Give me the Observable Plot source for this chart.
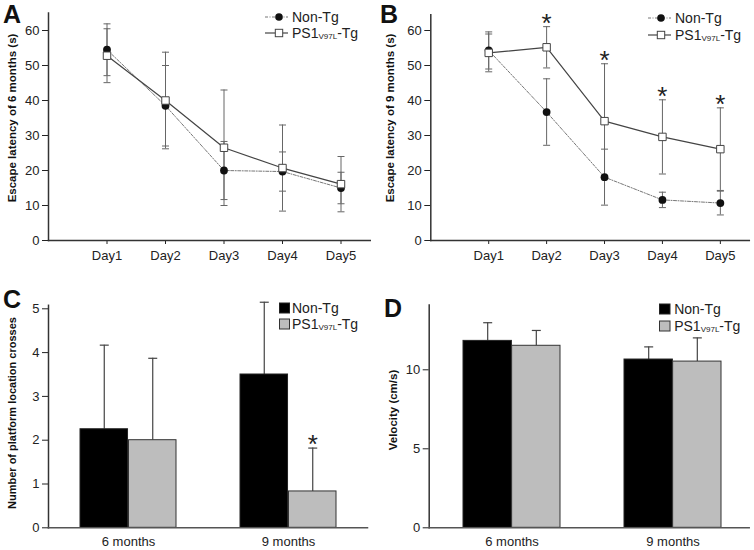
<!DOCTYPE html>
<html>
<head>
<meta charset="utf-8">
<script src="https://cdn.jsdelivr.net/npm/d3@7"></script>
<script src="https://cdn.jsdelivr.net/npm/@observablehq/plot@0.6"></script>
<style>
  body { margin: 0; background: #fff; font-family: "Liberation Sans", Arial, sans-serif; }
  #root { position: relative; width: 754px; height: 550px; overflow: hidden; background: #fff; }
  .panel { position: absolute; width: 377px; height: 275px; }
  .letter { position: absolute; font-weight: bold; font-size: 25px; line-height: 25px; color: #111; }
  .ytitle { position: absolute; font-weight: bold; font-size: 11.5px; white-space: nowrap; color: #111;
            transform: translate(-50%, -50%) rotate(-90deg); }
  .leg { position: absolute; font-size: 14px; color: #222; }
  .leg .row { display: flex; align-items: center; height: 16.3px; line-height: 16px; }
  .leg svg { display: block; flex: none; }
  .leg span { margin-left: 1px; white-space: nowrap; }
  .leg sub { font-size: 8px; vertical-align: -1px; line-height: 0; }
</style>
</head>
<body>
<div id="root">
  <div class="panel" id="pA" style="left:0px;top:0px"></div>
  <div class="panel" id="pB" style="left:377px;top:0px"></div>
  <div class="panel" id="pC" style="left:0px;top:275px"></div>
  <div class="panel" id="pD" style="left:377px;top:275px"></div>

  <div class="letter" style="left:3px;top:1.7px">A</div>
  <div class="letter" style="left:380px;top:1.7px">B</div>
  <div class="letter" style="left:3px;top:286.7px">C</div>
  <div class="letter" style="left:384px;top:296px">D</div>

  <div class="ytitle" style="left:11.7px;top:118px">Escape latency of 6 months (s)</div>
  <div class="ytitle" style="left:389.8px;top:117.5px">Escape latency of 9 months (s)</div>
  <div class="ytitle" style="left:11.7px;top:413px;font-size:11px">Number of platform location crosses</div>
  <div class="ytitle" style="left:392.5px;top:410px">Velocity (cm/s)</div>

  <!-- Legend A -->
  <div class="leg" style="left:263px;top:8.8px">
    <div class="row"><svg width="28" height="16"><line x1="2" y1="8" x2="25" y2="8" stroke="#777" stroke-width="1" stroke-dasharray="3,1.5,1,1.5"/><circle cx="16" cy="8" r="3.8" fill="#111"/></svg><span>Non-Tg</span></div>
    <div class="row"><svg width="28" height="16"><line x1="2" y1="8" x2="25" y2="8" stroke="#444" stroke-width="1.2"/><rect x="12.3" y="4.3" width="7.4" height="7.4" fill="#fff" stroke="#444" stroke-width="1"/></svg><span>PS1<sub>V97L</sub>-Tg</span></div>
  </div>
  <!-- Legend B -->
  <div class="leg" style="left:646px;top:10.2px">
    <div class="row"><svg width="28" height="16"><line x1="2" y1="8" x2="25" y2="8" stroke="#777" stroke-width="1" stroke-dasharray="3,1.5,1,1.5"/><circle cx="15" cy="8" r="3.8" fill="#111"/></svg><span>Non-Tg</span></div>
    <div class="row"><svg width="28" height="16"><line x1="2" y1="8" x2="25" y2="8" stroke="#444" stroke-width="1.2"/><rect x="11.3" y="4.3" width="7.4" height="7.4" fill="#fff" stroke="#444" stroke-width="1"/></svg><span>PS1<sub>V97L</sub>-Tg</span></div>
  </div>
  <!-- Legend C -->
  <div class="leg" style="left:278.5px;top:300px">
    <div class="row"><svg width="12" height="16"><rect x="0.5" y="3" width="10" height="10" fill="#000" stroke="#222"/></svg><span style="margin-left:1.5px">Non-Tg</span></div>
    <div class="row"><svg width="12" height="16"><rect x="0.5" y="3" width="10" height="10" fill="#bdbdbd" stroke="#333"/></svg><span style="margin-left:1.5px">PS1<sub>V97L</sub>-Tg</span></div>
  </div>
  <!-- Legend D -->
  <div class="leg" style="left:659.2px;top:301.2px">
    <div class="row"><svg width="12" height="16"><rect x="0.5" y="3" width="10.5" height="10" fill="#000" stroke="#222"/></svg><span style="margin-left:3px">Non-Tg</span></div>
    <div class="row"><svg width="12" height="16"><rect x="0.5" y="3" width="10.5" height="10" fill="#bdbdbd" stroke="#333"/></svg><span style="margin-left:3px">PS1<sub>V97L</sub>-Tg</span></div>
  </div>
</div>

<script>
// ---------------- DATA ----------------
const days = ["Day1", "Day2", "Day3", "Day4", "Day5"];
const groupNames = ["Non-Tg", "PS1V97L-Tg"];

// Panel A: escape latency, 6 months (s)
const aNonTgMean = [54.5, 38.5, 20.0, 19.7, 15.0];
const aNonTgSD   = [7.4, 11.5, 8.3, 5.6, 4.5];
const aTgMean    = [52.8, 40.0, 26.5, 20.7, 16.1];
const aTgSD      = [7.7, 13.8, 16.5, 12.3, 7.9];

// Panel B: escape latency, 9 months (s)
const bNonTgMean = [54.3, 36.7, 18.1, 11.6, 10.7];
const bNonTgSD   = [5.3, 9.5, 8.0, 2.2, 3.4];
const bTgMean    = [53.6, 55.2, 34.1, 29.6, 26.1];
const bTgSD      = [5.4, 5.9, 16.4, 10.6, 11.8];
const bSignificant = [false, true, true, true, true];

// Panels C & D
const ages = ["6 months", "9 months"];
const cNonTgMean = [2.25, 3.5];
const cNonTgSD   = [1.92, 1.65];
const cTgMean    = [2.0, 0.83];
const cTgSD      = [1.87, 0.99];
const cSignificant = [false, true];

const dNonTgMean = [11.83, 10.65];
const dNonTgSD   = [1.15, 0.80];
const dTgMean    = [11.52, 10.52];
const dTgSD      = [0.97, 1.50];

// --------------- HELPERS ---------------
const FONT = "'Liberation Sans', Arial, sans-serif";
const capSymbol = (half) => ({
  draw(ctx) { ctx.moveTo(-half, 0); ctx.lineTo(half, 0); }
});

function lineRows(mean, sd, group, sig) {
  return mean.map((m, i) => ({
    day: i + 1, group, mean: m, lo: m - sd[i], hi: m + sd[i], sig: sig ? sig[i] : false
  }));
}

function linePanel({nonMean, nonSD, tgMean, tgSD, sig, yMax, marginLeft, marginRight}) {
  const non = lineRows(nonMean, nonSD, groupNames[0], null);
  const tg = lineRows(tgMean, tgSD, groupNames[1], sig);
  const all = non.concat(tg);
  return Plot.plot({
    width: 377, height: 275,
    marginLeft, marginRight, marginTop: 240 - yMax * 3.5, marginBottom: 35,
    style: {fontFamily: FONT, fontSize: "13px", color: "#222", background: "#fff", overflow: "visible"},
    x: {domain: [0, 5.5], ticks: [1, 2, 3, 4, 5], tickFormat: (d) => days[d - 1], tickSize: 4, tickPadding: 6, label: null},
    y: {domain: [0, yMax], ticks: [0, 10, 20, 30, 40, 50, 60], tickFormat: "d", tickSize: 6, tickPadding: 3, label: null},
    marks: [
      Plot.ruleX(all, {x: "day", y1: "lo", y2: "hi", stroke: "#666", strokeWidth: 1}),
      Plot.dot(all, {x: "day", y: "hi", symbol: capSymbol(3.5), fill: "none", stroke: "#666", strokeWidth: 1}),
      Plot.dot(all, {x: "day", y: "lo", symbol: capSymbol(3.5), fill: "none", stroke: "#666", strokeWidth: 1}),
      Plot.line(non, {x: "day", y: "mean", stroke: "#777", strokeWidth: 1, strokeDasharray: "3,1.5,1,1.5"}),
      Plot.line(tg, {x: "day", y: "mean", stroke: "#444", strokeWidth: 1.2}),
      Plot.dot(non, {x: "day", y: "mean", r: 3.9, fill: "#111", stroke: "none"}),
      Plot.dot(tg, {x: "day", y: "mean", symbol: "square", r: 4.2, fill: "#fff", stroke: "#444", strokeWidth: 1}),
      Plot.text(tg.filter((d) => d.sig), {x: "day", y: "hi", text: () => "*", fontSize: 26, lineAnchor: "bottom", dy: 5, fill: "#222"}),
      Plot.frame({anchor: "left", stroke: "#333", strokeWidth: 1.5}),
      Plot.frame({anchor: "bottom", stroke: "#333", strokeWidth: 1.5})
    ]
  });
}

function barPanel({nonMean, nonSD, tgMean, tgSD, sig, yMax, pxPerUnit, yTicks, marginLeft, marginRight, align}) {
  const marginBottom = 22.7;
  const marginTop = 275 - marginBottom - yMax * pxPerUnit;
  const paddingInner = 0.3975, paddingOuter = 0.19;
  const band = d3.scaleBand().domain(ages).range([marginLeft, 377 - marginRight])
    .paddingInner(paddingInner).paddingOuter(paddingOuter).align(align);
  const half = band.bandwidth() / 2;
  const non = ages.map((a, i) => ({age: a, mean: nonMean[i], hi: nonMean[i] + nonSD[i]}));
  const tg = ages.map((a, i) => ({age: a, mean: tgMean[i], hi: tgMean[i] + tgSD[i], sig: sig ? sig[i] : false}));
  return Plot.plot({
    width: 377, height: 275,
    marginLeft, marginRight, marginTop, marginBottom,
    style: {fontFamily: FONT, fontSize: "13px", color: "#222", background: "#fff", overflow: "visible"},
    x: {type: "band", domain: ages, paddingInner, paddingOuter, align, tickSize: 0, tickPadding: 9, label: null},
    y: {domain: [0, yMax], ticks: yTicks, tickFormat: "d", tickSize: 6, tickPadding: 3, label: null},
    marks: [
      Plot.ruleX(non, {x: "age", y1: "mean", y2: "hi", dx: -half / 2, stroke: "#444", strokeWidth: 1.2}),
      Plot.ruleX(tg, {x: "age", y1: "mean", y2: "hi", dx: half / 2, stroke: "#444", strokeWidth: 1.2}),
      Plot.dot(non, {x: "age", y: "hi", dx: -half / 2, symbol: capSymbol(4.5), fill: "none", stroke: "#444", strokeWidth: 1.2}),
      Plot.dot(tg, {x: "age", y: "hi", dx: half / 2, symbol: capSymbol(4.5), fill: "none", stroke: "#444", strokeWidth: 1.2}),
      Plot.barY(non, {x: "age", y: "mean", insetRight: half, fill: "#000", stroke: "#222", strokeWidth: 1}),
      Plot.barY(tg, {x: "age", y: "mean", insetLeft: half, fill: "#bdbdbd", stroke: "#333", strokeWidth: 1}),
      Plot.text(tg.filter((d) => d.sig), {x: "age", y: "hi", dx: half / 2, text: () => "*", fontSize: 26, lineAnchor: "bottom", dy: 5, fill: "#222"}),
      Plot.frame({anchor: "left", stroke: "#333", strokeWidth: 1.5}),
      Plot.frame({anchor: "bottom", stroke: "#555", strokeWidth: 1.5})
    ]
  });
}

document.getElementById("pA").append(linePanel({
  nonMean: aNonTgMean, nonSD: aNonTgSD, tgMean: aTgMean, tgSD: aTgSD, sig: null,
  yMax: 65, marginLeft: 48, marginRight: 7.25
}));
document.getElementById("pB").append(linePanel({
  nonMean: bNonTgMean, nonSD: bNonTgSD, tgMean: bTgMean, tgSD: bTgSD, sig: bSignificant,
  yMax: 64.5, marginLeft: 53.3, marginRight: 5.2
}));
document.getElementById("pC").append(barPanel({
  nonMean: cNonTgMean, nonSD: cNonTgSD, tgMean: cTgMean, tgSD: cTgSD, sig: cSignificant,
  yMax: 5.08, pxPerUnit: 43.8, yTicks: [0, 1, 2, 3, 4, 5], marginLeft: 48, marginRight: 10, align: 0.517
}));
document.getElementById("pD").append(barPanel({
  nonMean: dNonTgMean, nonSD: dNonTgSD, tgMean: dTgMean, tgSD: dTgSD, sig: null,
  yMax: 14.1, pxPerUnit: 15.8, yTicks: [0, 5, 10], marginLeft: 51.7, marginRight: 5.3, align: 0.553
}));
</script>
</body>
</html>
